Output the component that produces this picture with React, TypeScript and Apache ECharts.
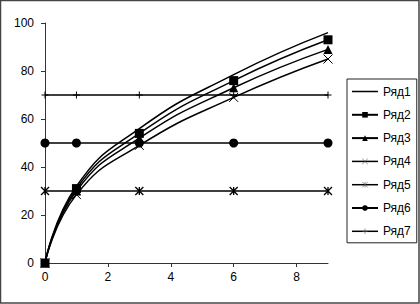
import React, { useEffect, useRef } from "react";
import * as echarts from "echarts";

const xValues = [0, 1, 3, 6, 9];
const seriesNames = ["Ряд1", "Ряд2", "Ряд3", "Ряд4", "Ряд5", "Ряд6", "Ряд7"];
const row1 = [0, 32, 56, 78.5, 96];
const row2 = [0, 31, 54, 76, 93];
const row3 = [0, 30, 52, 73, 89];
const row4 = [0, 28.5, 49, 69, 85];
const row5 = [30, 30, 30, 30, 30];
const row6 = [50, 50, 50, 50, 50];
const row7 = [70, 70, 70, 70, 70];
const xTicks = [0, 2, 4, 6, 8];

const X_SYM = "path://M0,0L10,10M10,0L0,10";
const STAR_SYM = "path://M0,0L10,10M10,0L0,10M5,0L5,10";
const PLUS_SYM = "path://M5,0L5,10M0,5L10,5";

export default function App() {
  const ref = useRef<HTMLDivElement>(null);
  useEffect(() => {
    if (!ref.current) return;
    const chart = echarts.init(ref.current, null, { renderer: "svg" });
    const font = "Liberation Sans, Arial, sans-serif";
    const pair = (ys: number[]) => xValues.map((x, i) => [x, ys[i]]);
    const rows = [row1, row2, row3, row4, row5, row6, row7];
    const symbols: any[] = [
      { symbol: "none" },
      { symbol: "rect", symbolSize: 9, itemStyle: { color: "#000" } },
      { symbol: "triangle", symbolSize: 9, itemStyle: { color: "#000" } },
      { symbol: X_SYM, symbolSize: 9, itemStyle: { color: "none", borderColor: "#000", borderWidth: 1 } },
      { symbol: STAR_SYM, symbolSize: 8, itemStyle: { color: "none", borderColor: "#000", borderWidth: 1.3 } },
      { symbol: "circle", symbolSize: 9, itemStyle: { color: "#000" } },
      { symbol: PLUS_SYM, symbolSize: 7, itemStyle: { color: "none", borderColor: "#000", borderWidth: 1 } },
    ];
    const series = rows.map((ys, i) => ({
      name: seriesNames[i],
      type: "line",
      data: pair(ys),
      smooth: i < 4 ? true : false,
      showSymbol: i !== 0,
      lineStyle: { color: "#000", width: 1.5 },
      color: "#000",
      ...symbols[i],
    }));
    const legendLine = { color: "#000", width: 1.5 };
    const legendData: any[] = seriesNames.map((n, i) => {
      if (i === 0)
        return { name: n, icon: "path://M0,0L26,0L26,1.5L0,1.5Z", itemStyle: { color: "#000", borderWidth: 0 } };
      if (i === 3 || i === 4 || i === 6)
        return {
          name: n,
          itemStyle: { color: "none", borderColor: "#555", borderWidth: 0.6 },
          lineStyle: legendLine,
        };
      return n;
    });
    chart.setOption({
      animation: false,
      backgroundColor: "#fff",
      grid: { left: 45, right: 92, top: 23, bottom: 41, outerBoundsMode: "none" },
      xAxis: {
        type: "value",
        min: 0,
        max: 9,
        interval: 2,
        splitLine: { show: false },
        axisLine: { lineStyle: { color: "#333", width: 1 } },
        axisTick: { show: true, length: 4, lineStyle: { color: "#333" }, customValues: xTicks },
        axisLabel: { color: "#000", fontSize: 12, fontFamily: font, margin: 8, customValues: xTicks },
      },
      yAxis: {
        type: "value",
        min: 0,
        max: 100,
        interval: 20,
        splitLine: { show: false },
        axisLine: { show: true, lineStyle: { color: "#333", width: 1 } },
        axisTick: { show: true, length: 4, lineStyle: { color: "#333" } },
        axisLabel: { color: "#000", fontSize: 12, fontFamily: font, margin: 11 },
      },
      legend: {
        orient: "vertical",
        left: 347,
        top: 79,
        padding: [6.5, 6, 5.5, 4],
        itemWidth: 26,
        itemHeight: 7,
        itemGap: 11.3,
        borderColor: "#222",
        borderWidth: 1,
        backgroundColor: "#fff",
        textStyle: { color: "#000", fontSize: 12, fontFamily: font },
        data: legendData,
      },
      graphic: [
        {
          type: "rect",
          shape: { x: 0.5, y: 0.5, width: 418.5, height: 302.5 },
          style: { fill: "none", stroke: "#444", lineWidth: 1.5 },
          silent: true,
        },
      ],
      series,
    });
    return () => chart.dispose();
  }, []);
  return (
    <div
      ref={ref}
      style={{ position: "fixed", left: 0, top: 0, width: 420, height: 304 }}
    />
  );
}
